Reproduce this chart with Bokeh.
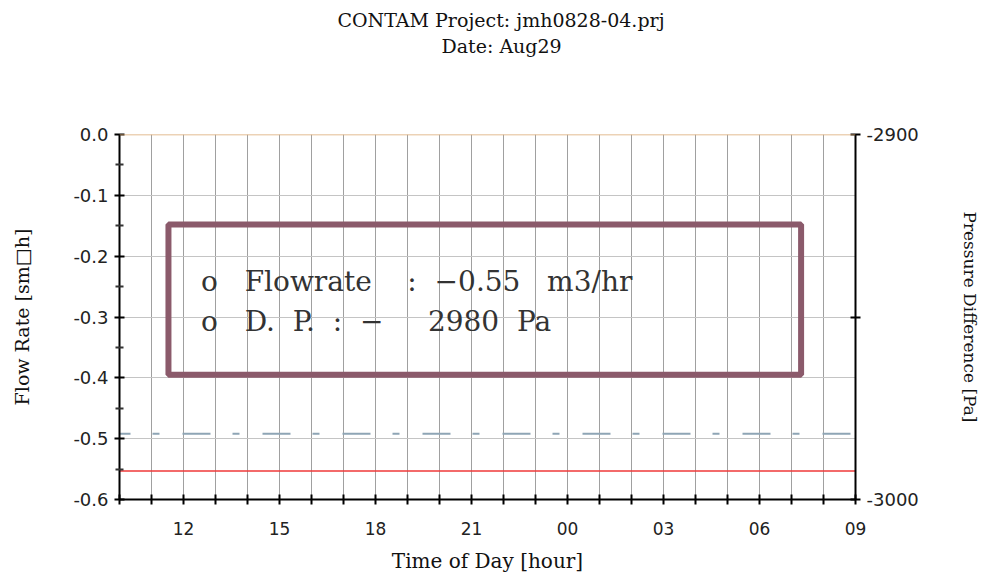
from bokeh.plotting import figure
from bokeh.models import (Range1d, LinearAxis, FixedTicker, Label, BoxAnnotation, Span, Title)
from bokeh.embed import file_html
from bokeh.resources import INLINE

# ---- data ----
hours = list(range(10, 34))                       # 10:00 day 1 .. 09:00 day 2
flow_rate = [-0.553] * len(hours)                 # m3/h
pressure_diff = [-2982.0] * len(hours)            # Pa
x_ticks = list(range(10, 34))
x_tick_labels = {h: (f"{h % 24:02d}" if h % 3 == 0 else "") for h in x_ticks}
y_ticks = [0.0, -0.1, -0.2, -0.3, -0.4, -0.5, -0.6]
y_minor = [-0.05, -0.15, -0.25, -0.35, -0.45, -0.55]
p_ticks = [-3000, -2950, -2900]
p_tick_labels = {-3000: "-3000", -2950: "", -2900: "-2900"}
title_lines = ["CONTAM Project: jmh0828-04.prj", "Date: Aug29"]
NB = "\u00a0"
note_lines = [f"o{NB*3}Flowrate{NB*4}:{NB*2}\u22120.55{NB*3}m3/hr",
              f"o{NB*3}D.{NB*2}P.{NB*2}:{NB*2}\u2212{NB*5}2980{NB*2}Pa"]

SERIF = "DejaVu Serif"
SANS = "DejaVu Sans"

p = figure(width=991, height=577, output_backend="svg", toolbar_location=None,
           x_range=Range1d(10, 33), y_range=Range1d(-0.6, 0.0),
           min_border_left=119, min_border_right=136, min_border_top=134,
           min_border_bottom=78)
p.outline_line_color = None
p.background_fill_color = "white"
p.extra_y_ranges = {"dp": Range1d(-3000, -2900)}

# titles (stacked outward from the frame); first one is an empty spacer
p.add_layout(Title(text=" ", align="center", text_font=SERIF, text_font_size="19px",
                   standoff=52), "above")
p.add_layout(Title(text=title_lines[1], align="left", text_font=SERIF,
                   text_font_size="19px", text_font_style="normal", offset=322,
                   text_color="#111111", standoff=2, vertical_align="middle"), "above")
p.add_layout(Title(text=title_lines[0], align="left", text_font=SERIF,
                   text_font_size="19px", text_font_style="normal", offset=218,
                   text_color="#111111", standoff=2, vertical_align="middle"), "above")

# grids
p.xgrid.ticker = FixedTicker(ticks=x_ticks)
p.xgrid.grid_line_color = "#a0a0a0"
p.xgrid.grid_line_width = 1
p.ygrid.ticker = FixedTicker(ticks=y_ticks)
p.ygrid.grid_line_color = "#c4c4c4"
p.ygrid.grid_line_width = 1

# bottom axis
xa = p.xaxis[0]
xa.ticker = FixedTicker(ticks=x_ticks)
xa.major_label_overrides = x_tick_labels
xa.axis_line_color = "black"
xa.axis_line_width = 2
xa.major_tick_in = 5
xa.major_tick_out = 5
xa.major_tick_line_width = 2
xa.minor_tick_line_color = None
xa.major_label_text_font = SANS
xa.major_label_text_font_size = "17px"
xa.major_label_text_color = "#222222"
xa.major_label_standoff = 17
xa.axis_label = "Time of Day [hour]"
xa.axis_label_text_font = SERIF
xa.axis_label_text_font_style = "normal"
xa.axis_label_text_font_size = "20px"
xa.axis_label_standoff = 11
xa.axis_label_text_color = "#111111"

# left axis
ya = p.yaxis[0]
ya.ticker = FixedTicker(ticks=y_ticks, minor_ticks=y_minor)
ya.major_label_overrides = {v: f"{v:.1f}" if v != 0 else "0.0" for v in y_ticks}
ya.axis_line_color = "black"
ya.axis_line_width = 2
ya.major_tick_in = 5
ya.major_tick_out = 5
ya.major_tick_line_width = 2
ya.minor_tick_in = 4
ya.minor_tick_out = 4
ya.minor_tick_line_width = 2
ya.minor_tick_line_color = "#333333"
ya.major_label_text_font = SANS
ya.major_label_text_font_size = "18px"
ya.major_label_text_color = "#222222"
ya.major_label_standoff = 6
ya.axis_label = "Flow Rate [sm\u25a1h]"
ya.axis_label_text_font = SERIF
ya.axis_label_text_font_style = "normal"
ya.axis_label_text_font_size = "19px"
ya.axis_label_standoff = 37
ya.axis_label_text_color = "#111111"

# right axis
ra = LinearAxis(y_range_name="dp", ticker=FixedTicker(ticks=p_ticks))
ra.major_label_overrides = p_tick_labels
ra.axis_line_color = "black"
ra.axis_line_width = 2
ra.major_tick_in = 5
ra.major_tick_out = 5
ra.major_tick_line_width = 2
ra.minor_tick_line_color = None
ra.major_label_text_font = SANS
ra.major_label_text_font_size = "18px"
ra.major_label_text_color = "#222222"
ra.major_label_standoff = 6
ra.axis_label = "Pressure Difference [Pa]"
ra.axis_label_text_font = SERIF
ra.axis_label_text_font_style = "normal"
ra.axis_label_text_font_size = "17px"
ra.axis_label_standoff = 38
ra.axis_label_text_color = "#111111"
p.add_layout(ra, "right")

# top boundary line
p.add_layout(Span(location=0.0, dimension="width", line_color="#d9a66e", line_width=1.5))

# series
p.line(hours, pressure_diff, y_range_name="dp", line_color="#8ea5b5", line_width=2,
       line_dash="28 22 7 23", line_dash_offset=17)
p.line(hours, flow_rate, line_color="#f03a3a", line_width=1.5)

# annotation box and text
p.add_layout(BoxAnnotation(left=11.53, right=31.3, top=-0.148, bottom=-0.395,
                           fill_alpha=0, line_color="#8b5a6b", line_alpha=1.0,
                           line_width=6))
p.add_layout(Label(x=12.55, y=-0.241, text=note_lines[0], text_font=SERIF,
                   text_font_size="28px", text_color="#333333", text_baseline="middle"))
p.add_layout(Label(x=12.55, y=-0.308, text=note_lines[1], text_font=SERIF,
                   text_font_size="28px", text_color="#333333", text_baseline="middle"))

open("out.html", "w").write(file_html(p, INLINE))
